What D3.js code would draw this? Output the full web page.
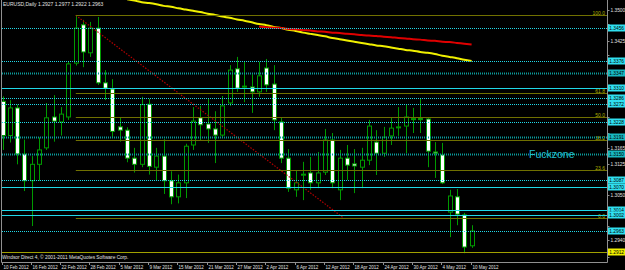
<!DOCTYPE html>
<html>
<head>
<meta charset="utf-8">
<script src="https://cdn.jsdelivr.net/npm/d3@7"></script>
<style>
  body { margin: 0; background: #000; overflow: hidden; }
  text { font-family: "Liberation Sans", Arial, sans-serif; }
</style>
</head>
<body>
<script>
// EURUSD daily, 10 Feb 2012 .. 10 May 2012
const opens  = [1.3278,1.3195,1.3262,1.3150,1.3085,1.3125,1.3165,1.3240,1.3228,1.3240,1.3371,1.3464,1.3396,1.3456,1.3323,1.3308,1.3216,1.3208,1.3140,1.3125,1.3271,1.3118,1.3145,1.3085,1.3046,1.3080,1.3172,1.3238,1.3223,1.3211,1.3196,1.3274,1.3357,1.3313,1.3313,1.3301,1.3359,1.3320,1.3228,1.3140,1.3063,1.3099,1.3104,1.3080,1.3106,1.3184,1.3063,1.3140,1.3126,1.3118,1.3135,1.3179,1.3152,1.3194,1.3214,1.3218,1.3235,1.3236,1.3235,1.3155,1.3148,1.3009,1.3046,1.3002,1.2927];
const highs  = [1.3290,1.3281,1.3270,1.3185,1.3145,1.3190,1.3274,1.3293,1.3264,1.3376,1.3487,1.3476,1.3471,1.3483,1.3354,1.3332,1.3240,1.3215,1.3165,1.3289,1.3284,1.3165,1.3186,1.3108,1.3100,1.3175,1.3264,1.3267,1.3286,1.3254,1.3291,1.3366,1.3386,1.3374,1.3344,1.3374,1.3381,1.3366,1.3238,1.3162,1.3111,1.3131,1.3143,1.3155,1.3211,1.3201,1.3160,1.3172,1.3162,1.3165,1.3233,1.3208,1.3216,1.3238,1.3264,1.3269,1.3262,1.3284,1.3240,1.3179,1.3177,1.3063,1.3065,1.3007,1.2977];
const lows   = [1.3160,1.3178,1.3125,1.3060,1.2975,1.3085,1.3160,1.3180,1.3195,1.3233,1.3365,1.3361,1.3386,1.3318,1.3281,1.3190,1.3180,1.3130,1.3105,1.3118,1.3100,1.3085,1.3053,1.3028,1.3030,1.3043,1.3160,1.3184,1.3177,1.3128,1.3191,1.3267,1.3301,1.3276,1.3250,1.3289,1.3301,1.3208,1.3128,1.3058,1.3046,1.3038,1.3063,1.3067,1.3099,1.3067,1.3038,1.3087,1.3055,1.3067,1.3123,1.3099,1.3143,1.3172,1.3194,1.3152,1.3201,1.3201,1.3118,1.3092,1.3077,1.2948,1.2977,1.2909,1.2922];
const closes = [1.3195,1.3262,1.3150,1.3085,1.3125,1.3160,1.3238,1.3230,1.3247,1.3369,1.3456,1.3398,1.3456,1.3323,1.3310,1.3205,1.3208,1.3140,1.3125,1.3270,1.3120,1.3145,1.3085,1.3046,1.3080,1.3169,1.3230,1.3221,1.3211,1.3196,1.3267,1.3354,1.3310,1.3315,1.3301,1.3340,1.3318,1.3233,1.3140,1.3067,1.3080,1.3101,1.3080,1.3104,1.3184,1.3080,1.3140,1.3123,1.3121,1.3135,1.3218,1.3152,1.3191,1.3213,1.3216,1.3240,1.3236,1.3235,1.3157,1.3152,1.3080,1.3048,1.3004,1.2924,1.2963];

// moving averages (yellow from bar 17, red from bar 35)
const maYellowStart = 17;
const maYellow = [1.3526,1.3523,1.3519,1.3517,1.3514,1.3510,1.3508,1.3504,1.3501,1.3498,1.3495,1.3491,1.3488,1.3484,1.3481,1.3477,1.3474,1.3470,1.3466,1.3463,1.3459,1.3456,1.3452,1.3449,1.3445,1.3442,1.3439,1.3436,1.3432,1.3429,1.3426,1.3423,1.3420,1.3417,1.3414,1.3412,1.3409,1.3406,1.3403,1.3401,1.3398,1.3396,1.3393,1.3389,1.3386,1.3383,1.3379,1.3376];
const maRedStart = 35;
const maRed = [1.3460,1.3458,1.3457,1.3456,1.3454,1.3453,1.3451,1.3450,1.3448,1.3447,1.3445,1.3444,1.3442,1.3441,1.3439,1.3438,1.3437,1.3435,1.3434,1.3432,1.3431,1.3429,1.3428,1.3426,1.3425,1.3423,1.3422,1.3420,1.3418,1.3416];

// horizontal lines drawn by hand
const hlinePrices = [1.3456,1.3376,1.3347,1.3310,1.3286,1.3272,1.3228,1.3191,1.3150,1.3087,1.3070,1.3014,1.3002,1.2963];
const hlineKinds  = ["dot","dot","teal","solid","dot","dot","dot","teal","teal","dot","solid","solid","solid","dot"];
const lowLinePrice = 1.2912;

// fibonacci
const fibLevels = [100.0, 61.8, 50.0, 38.2, 23.6, 0.0];
const fibHigh = 1.3487, fibLow = 1.2995;
const fibFrom = 10, fibTo = 46.5;

const priceTicks = ["1.3500","1.3465","1.3425","1.3390","1.3350","1.3315","1.3275","1.3240","1.3200","1.3165","1.3125","1.3090","1.3050","1.3015","1.2975","1.2940","1.2900"];
const dateTicks = ["10 Feb 2012","16 Feb 2012","22 Feb 2012","28 Feb 2012","5 Mar 2012","9 Mar 2012","15 Mar 2012","21 Mar 2012","27 Mar 2012","2 Apr 2012","6 Apr 2012","12 Apr 2012","18 Apr 2012","24 Apr 2012","30 Apr 2012","4 May 2012","10 May 2012"];

const width = 625, height = 270;
const plotR = 607.5, plotB = 262;

const x = d3.scaleLinear().domain([0, 64]).range([2.5, 471.6]);
const y = d3.scaleLinear().domain([1.2900, 1.3500]).range([256.9, 10]);

const svg = d3.select('body').append('svg')
  .attr('width', width).attr('height', height)
  .attr('viewBox', [0, 0, width, height]);

svg.append('rect').attr('width', width).attr('height', height).attr('fill', '#000');

const plot = svg.append('g');
plot.append('clipPath').attr('id', 'clip')
  .append('rect').attr('x', 2).attr('y', 0).attr('width', plotR - 2).attr('height', plotB);

// MAs
const line = d3.line().x(d => x(d[0])).y(d => y(d[1])).curve(d3.curveMonotoneX);
plot.append('path')
  .datum(maYellow.map((v, k) => [maYellowStart + k, v]))
  .attr('clip-path', 'url(#clip)')
  .attr('d', line).attr('fill', 'none').attr('stroke', '#f0f000').attr('stroke-width', 2);
plot.append('path')
  .datum(maRed.map((v, k) => [maRedStart + k, v]))
  .attr('d', line).attr('fill', 'none').attr('stroke', '#e00000').attr('stroke-width', 2);

// candles
const bars = d3.range(opens.length).map(i => ({i, o: opens[i], h: highs[i], l: lows[i], c: closes[i]}));
const candle = plot.selectAll('g.c').data(bars).join('g').attr('class', 'c');
candle.append('line')
  .attr('x1', d => Math.round(x(d.i)) + 0.5).attr('x2', d => Math.round(x(d.i)) + 0.5)
  .attr('y1', d => y(d.h)).attr('y2', d => y(d.l))
  .attr('stroke', '#009a00');
candle.append('rect')
  .attr('x', d => Math.round(x(d.i)) - 2 + 0.5)
  .attr('y', d => y(Math.max(d.o, d.c)))
  .attr('width', 4)
  .attr('height', d => Math.max(1, y(Math.min(d.o, d.c)) - y(Math.max(d.o, d.c))))
  .attr('fill', d => d.c >= d.o ? '#000' : '#fff')
  .attr('stroke', '#009a00');

// fibonacci retracement
const fibY = lv => y(fibLow + (fibHigh - fibLow) * lv / 100);
plot.append('line')
  .attr('x1', x(fibFrom)).attr('y1', y(fibHigh))
  .attr('x2', x(fibTo)).attr('y2', y(fibLow))
  .attr('stroke', '#b00000').attr('stroke-width', 1.2).attr('stroke-dasharray', '1.5,1.5');
plot.selectAll('line.fib').data(fibLevels).join('line').attr('class', 'fib')
  .attr('x1', x(fibFrom)).attr('x2', plotR)
  .attr('y1', d => Math.round(fibY(d)) + 0.5).attr('y2', d => Math.round(fibY(d)) + 0.5)
  .attr('stroke', '#707000');
plot.selectAll('text.fib').data(fibLevels).join('text').attr('class', 'fib')
  .attr('x', 605).attr('y', d => Math.round(fibY(d)) - 0.5)
  .attr('text-anchor', 'end').attr('font-size', 5).attr('fill', '#b0b000')
  .text(d => d.toFixed(1));

// horizontal lines
const hl = hlinePrices.map((p, k) => ({p, kind: hlineKinds[k]}));
plot.selectAll('line.h').data(hl).join('line').attr('class', 'h')
  .attr('x1', 2).attr('x2', plotR)
  .attr('y1', d => Math.round(y(d.p)) + 0.5).attr('y2', d => Math.round(y(d.p)) + 0.5)
  .attr('stroke', d => d.kind === 'teal' ? '#0a9a9a' : '#20d8e8')
  .attr('stroke-width', d => d.kind === 'teal' ? 2 : 1)
  .attr('stroke-dasharray', d => d.kind === 'solid' ? null : '1,1');
plot.append('line')
  .attr('x1', 2).attr('x2', plotR)
  .attr('y1', Math.round(y(lowLinePrice)) + 0.5).attr('y2', Math.round(y(lowLinePrice)) + 0.5)
  .attr('stroke', '#a0a000');

// custom text
plot.append('text').attr('x', 529).attr('y', y(1.3150) + 3.5)
  .attr('font-size', 10.5).attr('fill', '#20c0d0').text('Fuckzone');

// title and copyright
svg.append('text').attr('x', 3).attr('y', 6).attr('font-size', 5)
  .attr('fill', '#e0e0e0').text('EURUSD,Daily  1.2927 1.2977 1.2922 1.2963');
svg.append('text').attr('x', 2).attr('y', 258.5).attr('font-size', 4.8)
  .attr('fill', '#e0e0e0').text('Windsor Direct 4, \u00a9 2001-2011 MetaQuotes Software Corp.');

// frame
svg.append('path').attr('d', `M1.5,0V${plotB + 0.5}H${plotR}V0`)
  .attr('fill', 'none').attr('stroke', '#909090');

// price labels for lines
const tags = hl.map(d => ({p: d.p, bg: d.kind === 'teal' ? '#18b8c0' : '#30e0f0'}))
  .concat([{p: lowLinePrice, bg: '#f0f000'}]);
const tagY = tags.map(d => Math.round(y(d.p)));

// price axis (ticks hidden behind a tag are skipped)
const shown = priceTicks.filter(d => tagY.every(t => Math.abs(t - y(+d)) > 6));
const pa = svg.append('g');
pa.selectAll('line').data(priceTicks).join('line')
  .attr('x1', plotR).attr('x2', plotR + 2)
  .attr('y1', d => Math.round(y(+d)) + 0.5).attr('y2', d => Math.round(y(+d)) + 0.5)
  .attr('stroke', '#909090');
pa.selectAll('text').data(shown).join('text')
  .attr('x', 610.5).attr('y', d => y(+d) + 1.8)
  .attr('font-size', 4.8).attr('fill', '#e0e0e0').text(d => d);

const tag = svg.selectAll('g.tag').data(tags).join('g').attr('class', 'tag')
  .attr('transform', d => `translate(608,${Math.round(y(d.p)) - 3.5})`);
tag.append('rect').attr('width', 17).attr('height', 7).attr('fill', d => d.bg);
tag.append('text').attr('x', 1.3).attr('y', 5.3).attr('font-size', 4.8).attr('fill', '#000')
  .text(d => d.p.toFixed(4));

// date axis
const ta = svg.append('g');
ta.selectAll('line').data(dateTicks).join('line')
  .attr('x1', (d, k) => Math.round(x(k * 4)) - 0.5).attr('x2', (d, k) => Math.round(x(k * 4)) - 0.5)
  .attr('y1', plotB).attr('y2', plotB + 3)
  .attr('stroke', '#909090');
ta.selectAll('text').data(dateTicks).join('text')
  .attr('x', (d, k) => Math.round(x(k * 4)) + 0.5).attr('y', 268.5)
  .attr('font-size', 4.5).attr('fill', '#e0e0e0').text(d => d);
</script>
</body>
</html>
